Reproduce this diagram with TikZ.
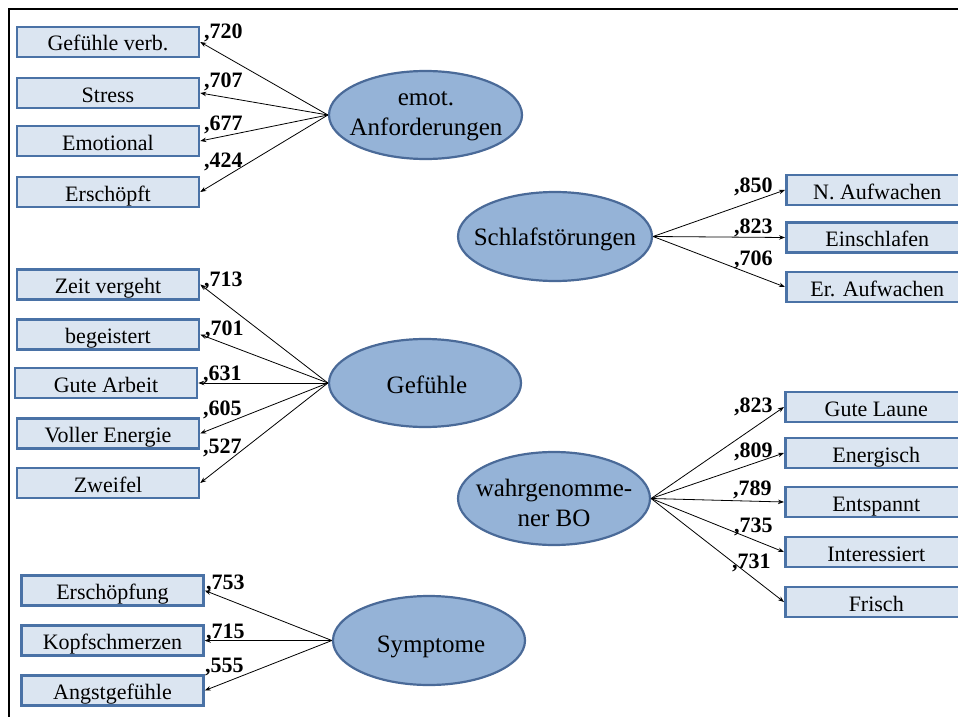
\documentclass[tikz,border=0pt]{standalone}
\usepackage{fontspec}
\setmainfont{Liberation Serif}
\usetikzlibrary{shapes.geometric,arrows.meta}
\definecolor{boxfill}{HTML}{DBE5F1}
\definecolor{boxdraw}{HTML}{4A72A6}
\definecolor{ellfill}{HTML}{95B3D7}
\definecolor{elldraw}{HTML}{4A6A98}
\begin{document}
\begin{tikzpicture}[x=1pt,y=-1pt,
  obox/.style={draw=boxdraw,fill=boxfill,line width=2.5pt,minimum width=182pt,minimum height=30pt,inner sep=0pt,text height=20pt,text depth=2pt,font=\fontsize{22}{24}\selectfont},
  lat/.style={ellipse,draw=elldraw,fill=ellfill,line width=2.2pt,inner sep=0pt},
  lattext/.style={align=center,inner sep=0pt,font=\fontsize{25}{30}\selectfont},
  conn/.style={-{Stealth[length=6pt,width=4.5pt]},line width=0.8pt,black},
  lbl/.style={anchor=base west,inner sep=0pt,font=\fontsize{22}{24}\selectfont\bfseries}]
\useasboundingbox (0,0) rectangle (958,717);
\begin{scope}
\clip (0,0) rectangle (958,717);
\fill[white] (0,0) rectangle (958,717);
\draw[line width=2.5pt] (9,717) -- (9,9) -- (958,9);

% emot. Anforderungen
\node[obox] (gv) at (108,42) {Gefühle verb.};
\node[obox] (st) at (108,93) {Stress};
\node[obox] (em) at (108,141) {Emotional};
\node[obox] (er) at (108,192) {Erschöpft};
\node[lat,minimum width=193pt,minimum height=88pt] (ea) at (425.5,115) {};
\node[lattext] (eat) at (426,116) {emot.\\Anforderungen};
\foreach \b in {gv,st,em,er} \draw[conn] (ea.west) -- (\b.east);
\node[lbl] (l1) at (204,39) {,720};
\node[lbl] (l2) at (204,88) {,707};
\node[lbl] (l3) at (204,130) {,677};
\node[lbl] (l4) at (204,167) {,424};

% Gefuehle
\node[obox] (zv) at (108,284.5) {Zeit vergeht};
\node[obox] (bg) at (108,334.5) {begeistert};
\node[obox] (ga) at (106,383) {Gute Arbeit};
\node[obox] (ve) at (108,433.5) {Voller Energie};
\node[obox] (zw) at (108,483) {Zweifel};
\node[lat,minimum width=192pt,minimum height=88pt] (gf) at (425,383) {};
\node[lattext,anchor=base] (gft) at (427,393) {Gefühle};
\foreach \b in {zv,bg,ga,ve,zw} \draw[conn] (gf.west) -- (\b.east);
\node[lbl] (l5) at (204,286) {,713};
\node[lbl] (l6) at (205,335) {,701};
\node[lbl] (l7) at (203,380) {,631};
\node[lbl] (l8) at (203,415) {,605};
\node[lbl] (l9) at (203,453) {,527};

% Symptome
\node[obox] (es) at (112.5,590.5) {Erschöpfung};
\node[obox] (ks) at (112.5,640.5) {Kopfschmerzen};
\node[obox] (ag) at (112.5,690.5) {Angstgefühle};
\node[lat,minimum width=192pt,minimum height=89pt] (sy) at (429,640.5) {};
\node[lattext,anchor=base] (syt) at (431,652) {Symptome};
\foreach \b in {es,ks,ag} \draw[conn] (sy.west) -- (\b.east);
\node[lbl] (l10) at (206,589) {,753};
\node[lbl] (l11) at (206,638) {,715};
\node[lbl] (l12) at (205,672) {,555};

% Schlafstoerungen
\node[obox,anchor=west] (na) at (785,190) {N. Aufwachen};
\node[obox,anchor=west] (ei) at (785,237.5) {Einschlafen};
\node[obox,anchor=west] (ea2) at (785,287) {Er. Aufwachen};
\node[lat,minimum width=194pt,minimum height=89pt] (sl) at (555,236.5) {};
\node[lattext,anchor=base] (slt) at (555,245) {Schlafstörungen};
\foreach \b in {na,ei,ea2} \draw[conn] (sl.east) -- (\b.west);
\node[lbl] (l13) at (734,192) {,850};
\node[lbl] (l14) at (734,233) {,823};
\node[lbl] (l15) at (734,265) {,706};

% wahrgenommener BO
\node[obox,anchor=west] (gl) at (784,407) {Gute Laune};
\node[obox,anchor=west] (en) at (784,453) {Energisch};
\node[obox,anchor=west] (et) at (784,502) {Entspannt};
\node[obox,anchor=west] (in) at (784,552) {Interessiert};
\node[obox,anchor=west] (fr) at (784,602) {Frisch};
\node[lat,minimum width=192pt,minimum height=93pt] (bo) at (554,498.5) {};
\node[lattext] (bot) at (554,503) {wahrgenomme-\\ner BO};
\foreach \b in {gl,en,et,in,fr} \draw[conn] (bo.east) -- (\b.west);
\node[lbl] (l16) at (734,412) {,823};
\node[lbl] (l17) at (734,457) {,809};
\node[lbl] (l18) at (733,495) {,789};
\node[lbl] (l19) at (734,532) {,735};
\node[lbl] (l20) at (732,568) {,731};
\end{scope}
\end{tikzpicture}
\end{document}
